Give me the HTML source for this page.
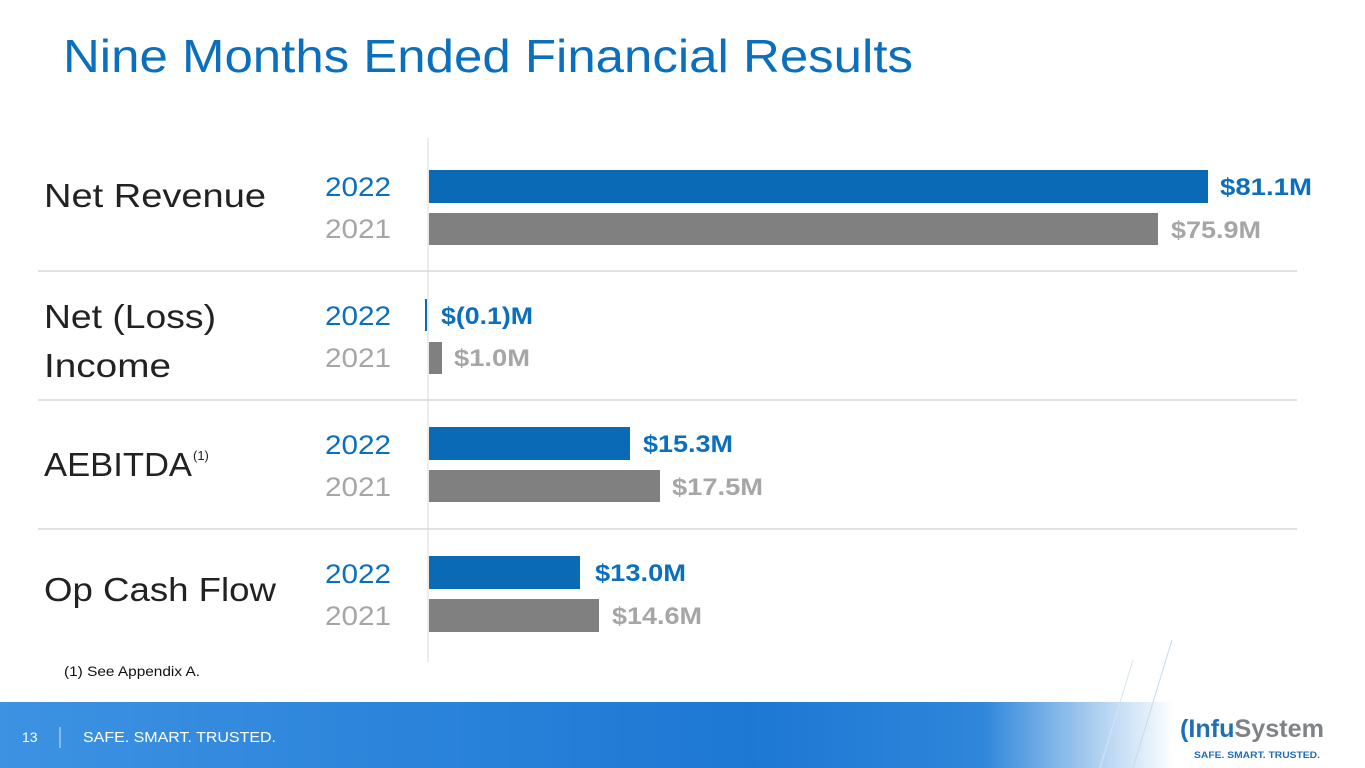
<!DOCTYPE html>
<html><head><meta charset="utf-8"><style>
html,body{margin:0;padding:0;background:#fff;}
svg{display:block;font-family:"Liberation Sans",sans-serif;}
</style></head><body>
<svg width="1365" height="768" viewBox="0 0 1365 768" xmlns="http://www.w3.org/2000/svg">
<defs>
<linearGradient id="ft" x1="0" y1="0" x2="1" y2="0">
<stop offset="0" stop-color="#3d92e2"/>
<stop offset="0.55" stop-color="#1d78d4"/>
<stop offset="0.72" stop-color="#2f86da"/>
<stop offset="0.80" stop-color="#a9cdf0"/>
<stop offset="0.86" stop-color="#ffffff"/>
<stop offset="1" stop-color="#ffffff"/>
</linearGradient>
</defs>
<text x="63" y="72" font-size="46" fill="#0a6fbd" textLength="850" lengthAdjust="spacingAndGlyphs">Nine Months Ended Financial Results</text>

<line x1="428" y1="138" x2="428" y2="662" stroke="#e6e6e6" stroke-width="1.5"/>
<g stroke="#d9d9d9" stroke-width="1.5">
<line x1="38" y1="271" x2="1297" y2="271"/>
<line x1="38" y1="400" x2="1297" y2="400"/>
<line x1="38" y1="529" x2="1297" y2="529"/>
</g>

<g font-size="33" fill="#222">
<text x="44" y="207" textLength="222" lengthAdjust="spacingAndGlyphs">Net Revenue</text>
<text x="44" y="328" textLength="172" lengthAdjust="spacingAndGlyphs">Net (Loss)</text>
<text x="44" y="377" textLength="127" lengthAdjust="spacingAndGlyphs">Income</text>
<text x="44" y="476" textLength="148" lengthAdjust="spacingAndGlyphs">AEBITDA</text>
<text x="193" y="460" font-size="13">(1)</text>
<text x="44" y="601" textLength="232" lengthAdjust="spacingAndGlyphs">Op Cash Flow</text>
</g>

<g font-size="27">
<text x="325" y="196" fill="#0a6fbd" textLength="66" lengthAdjust="spacingAndGlyphs">2022</text>
<text x="325" y="238" fill="#a6a6a6" textLength="66" lengthAdjust="spacingAndGlyphs">2021</text>
<text x="325" y="325" fill="#0a6fbd" textLength="66" lengthAdjust="spacingAndGlyphs">2022</text>
<text x="325" y="367" fill="#a6a6a6" textLength="66" lengthAdjust="spacingAndGlyphs">2021</text>
<text x="325" y="454" fill="#0a6fbd" textLength="66" lengthAdjust="spacingAndGlyphs">2022</text>
<text x="325" y="496" fill="#a6a6a6" textLength="66" lengthAdjust="spacingAndGlyphs">2021</text>
<text x="325" y="583" fill="#0a6fbd" textLength="66" lengthAdjust="spacingAndGlyphs">2022</text>
<text x="325" y="625" fill="#a6a6a6" textLength="66" lengthAdjust="spacingAndGlyphs">2021</text>
</g>

<rect x="429" y="170" width="779" height="33" fill="#0a6ab6"/>
<rect x="429" y="213" width="729" height="32" fill="#808080"/>
<rect x="425" y="299" width="2" height="32" fill="#0a6ab6"/>
<rect x="429" y="342" width="13" height="32" fill="#808080"/>
<rect x="429" y="427" width="201" height="33" fill="#0a6ab6"/>
<rect x="429" y="470" width="231" height="32" fill="#808080"/>
<rect x="429" y="556" width="151" height="33" fill="#0a6ab6"/>
<rect x="429" y="599" width="170" height="33" fill="#808080"/>

<g font-size="24" font-weight="bold">
<text x="1220" y="195" fill="#0a6fbd" textLength="92" lengthAdjust="spacingAndGlyphs">$81.1M</text>
<text x="1171" y="238" fill="#a6a6a6" textLength="90" lengthAdjust="spacingAndGlyphs">$75.9M</text>
<text x="441" y="324" fill="#0a6fbd" textLength="92" lengthAdjust="spacingAndGlyphs">$(0.1)M</text>
<text x="454" y="366" fill="#a6a6a6" textLength="76" lengthAdjust="spacingAndGlyphs">$1.0M</text>
<text x="643" y="452" fill="#0a6fbd" textLength="90" lengthAdjust="spacingAndGlyphs">$15.3M</text>
<text x="672" y="495" fill="#a6a6a6" textLength="91" lengthAdjust="spacingAndGlyphs">$17.5M</text>
<text x="595" y="581" fill="#0a6fbd" textLength="91" lengthAdjust="spacingAndGlyphs">$13.0M</text>
<text x="612" y="624" fill="#a6a6a6" textLength="90" lengthAdjust="spacingAndGlyphs">$14.6M</text>
</g>

<text x="64" y="676" font-size="14" fill="#111" textLength="136" lengthAdjust="spacingAndGlyphs">(1) See Appendix A.</text>

<rect x="0" y="702" width="1365" height="66" fill="url(#ft)"/>
<line x1="1172" y1="640" x2="1133" y2="768" stroke="#c4d9ef" stroke-width="1"/>
<line x1="1133" y1="660" x2="1100" y2="768" stroke="#d7e4f3" stroke-width="1"/>
<text x="22" y="742" font-size="14" fill="#fff">13</text>
<line x1="60" y1="727" x2="60" y2="748" stroke="#cfe2f8" stroke-width="1"/>
<text x="83" y="742" font-size="15" fill="#fff" textLength="193" lengthAdjust="spacingAndGlyphs">SAFE. SMART. TRUSTED.</text>
<text x="1180" y="737" font-size="25" font-weight="bold" textLength="144" lengthAdjust="spacingAndGlyphs"><tspan fill="#1d6fb8">(Infu</tspan><tspan fill="#7f8387">System</tspan></text>
<text x="1194" y="758" font-size="9" font-weight="bold" fill="#1d6fb8" textLength="126" lengthAdjust="spacingAndGlyphs">SAFE. SMART. TRUSTED.</text>
</svg>
</body></html>
